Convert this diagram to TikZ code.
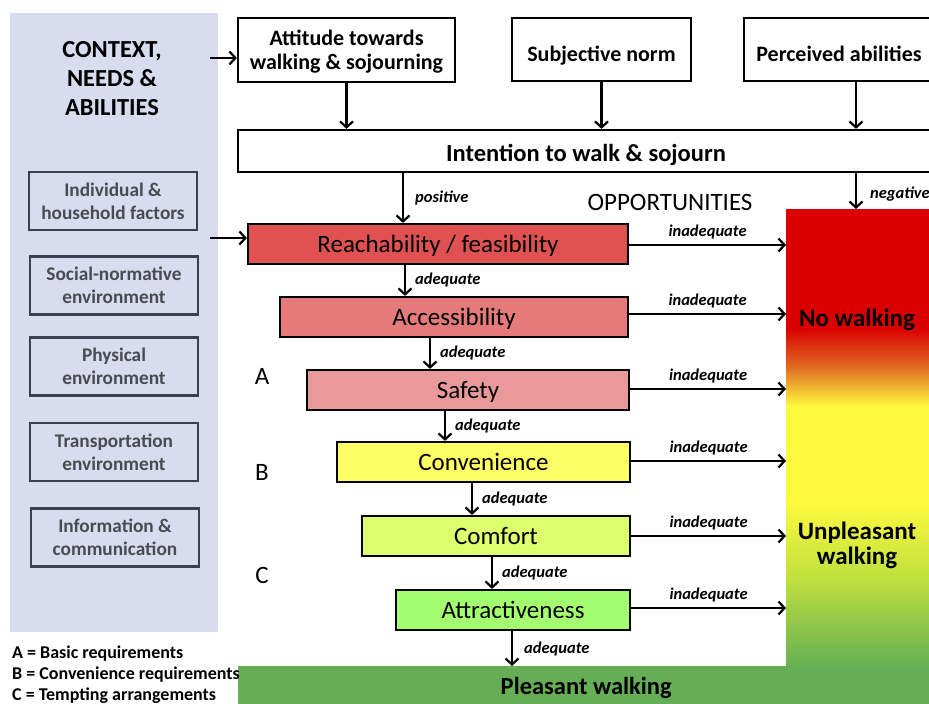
\documentclass[tikz,border=0pt]{standalone}
\usepackage{fontspec}
\setmainfont{Carlito}
\usetikzlibrary{arrows.meta}

\definecolor{panel}{RGB}{215,221,239}
\definecolor{panelline}{RGB}{58,64,82}
\definecolor{paneltext}{RGB}{74,74,80}
\definecolor{reachc}{RGB}{224,82,82}
\definecolor{accessc}{RGB}{228,122,122}
\definecolor{safetyc}{RGB}{233,153,153}
\definecolor{convc}{RGB}{255,255,102}
\definecolor{comfortc}{RGB}{221,255,110}
\definecolor{attractc}{RGB}{164,255,112}
\definecolor{pleasantc}{RGB}{101,174,86}
\definecolor{gred}{RGB}{218,0,0}
\definecolor{gorange}{RGB}{224,112,36}
\definecolor{gyellow}{RGB}{255,250,62}
\definecolor{glime}{RGB}{192,224,62}
\definecolor{ggreen}{RGB}{102,176,84}

\tikzset{
  headbox/.style={draw=black, line width=2.2pt, inner sep=0pt, align=center,
    font=\bfseries\fontsize{22}{24}\selectfont},
  onerow/.style={text height=#1, text depth=0pt},
  factor/.style={draw=panelline, line width=2.2pt, inner sep=0pt, align=center,
    minimum width=168, minimum height=58, text=paneltext,
    font=\bfseries\fontsize{19.3}{23}\selectfont},
  oppbox/.style={draw=black, line width=2.2pt, inner sep=0pt, minimum height=40,
    text height=16pt, text depth=0pt, font=\fontsize{25}{28}\selectfont},
  arr/.style={line width=2.2pt, -{Straight Barb[length=6pt,width=13pt,line width=2.2pt]}},
  lab/.style={font=\bfseries\itshape\fontsize{16.5}{19}\selectfont, inner sep=0pt},
  grade/.style={font=\fontsize{25}{28}\selectfont},
  result/.style={font=\bfseries\fontsize{25}{25}\selectfont, align=center},
}

\begin{document}
\begin{tikzpicture}[x=1pt, y=-1pt]
\useasboundingbox (0,0) rectangle (929,704);
\clip (0,0) rectangle (929,704);

% context panel with its factors
\node[fill=panel, inner sep=0pt, minimum width=208, minimum height=619, anchor=north west] (panel) at (10,13) {};
\node[align=center, font=\bfseries\fontsize{24.5}{29}\selectfont] (ctx) at (112,79) {CONTEXT,\\NEEDS \&\\ABILITIES};
\node[factor] (f1) at (113,201) {Individual \&\\household factors};
\node[factor] (f2) at (114,285.5) {Social-normative\\environment};
\node[factor] (f3) at (114,366.5) {Physical\\environment};
\node[factor] (f4) at (114,452) {Transportation\\environment};
\node[factor] (f5) at (115,537.5) {Information \&\\communication};

% theory of planned behaviour
\node[headbox, text height=42pt, minimum width=217, minimum height=64] (att) at (346.5,50) {Attitude towards\\walking \& sojourning};
\node[headbox, onerow=24pt, minimum width=179, minimum height=63] (sub) at (601.5,49.5) {Subjective norm};
\node[headbox, onerow=24pt, minimum width=190, minimum height=63] (per) at (839,49.5) {Perceived abilities};
\node[headbox, onerow=20pt, minimum width=696, minimum height=42, font=\bfseries\fontsize{24.5}{26}\selectfont] (int) at (586,151) {Intention to walk \& sojourn};

% outcome column with its colour gradient
\fill[gred] (786,209) rectangle (935,328.5);
\shade[top color=gred, bottom color=gorange] (786,328) rectangle (935,368.5);
\shade[top color=gorange, bottom color=gyellow] (786,368) rectangle (935,406.5);
\fill[gyellow] (786,406) rectangle (935,500.5);
\shade[top color=gyellow, bottom color=glime] (786,500) rectangle (935,578.5);
\shade[top color=glime, bottom color=ggreen] (786,578) rectangle (935,666);
\node[inner sep=0pt, minimum width=149, minimum height=457, anchor=north west] (col) at (786,209) {};
\node[result] (nowalk) at (857,320) {No walking};
\node[result] (unpl) at (857,545) {Unpleasant\\walking};

\node[fill=pleasantc, inner sep=0pt, minimum width=696, minimum height=40, anchor=north west,
  onerow=17pt, font=\bfseries\fontsize{24.5}{26}\selectfont] (pl) at (238,666) {Pleasant walking};

% opportunity ladder
\node[font=\fontsize{25}{28}\selectfont] (opp) at (670,202) {OPPORTUNITIES};
\node[oppbox, fill=reachc,   minimum width=380] (reach)   at (438,244)   {Reachability / feasibility};
\node[oppbox, fill=accessc,  minimum width=348] (access)  at (454,317)   {Accessibility};
\node[oppbox, fill=safetyc,  minimum width=322] (safety)  at (468,390)   {Safety};
\node[oppbox, fill=convc,    minimum width=293] (conv)    at (483.5,462) {Convenience};
\node[oppbox, fill=comfortc, minimum width=268] (comfort) at (496,536)   {Comfort};
\node[oppbox, fill=attractc, minimum width=234] (attract) at (513,610)   {Attractiveness};

\node[grade] (ga) at (262,376) {A};
\node[grade] (gb) at (262,472) {B};
\node[grade] (gc) at (262,575) {C};

% legend
\node[anchor=north west, align=left, inner sep=0pt, font=\bfseries\fontsize{18}{21}\selectfont] (legend) at (12,646)
  {A = Basic requirements\\B = Convenience requirements\\C = Tempting arrangements};

% connectors
\coordinate (negx) at (856,0);
\coordinate (posx) at (403,0);
\draw[arr] ([xshift=-8pt,yshift=-8pt]panel.east |- att.west) -- ([yshift=-8pt]att.west);
\draw[arr] ([xshift=-8pt,yshift=6pt]panel.east |- reach.west) -- ([yshift=6pt]reach.west);
\draw[arr] (att.south) -- (att.south |- int.north);
\draw[arr] (sub.south) -- (sub.south |- int.north);
\draw[arr] (per.south -| negx) -- (int.north -| negx);
\draw[arr] (int.south -| posx) -- node[lab, right=11pt] {positive} (reach.north -| posx);
\draw[arr] (int.south -| negx) -- node[lab, right=13pt, yshift=-3pt] {negative} (col.north -| negx);

\foreach \b/\y in {reach/-1, access/3, safety/1, conv/1, comfort/0, attract/2} {
  \draw[arr] ([yshift=\y pt]\b.east) -- node[lab, above=5pt] {inadequate} ([yshift=\y pt]\b.east -| col.west);
}

\coordinate (a1) at (405,0);
\coordinate (a2) at (430,0);
\coordinate (a3) at (445,0);
\coordinate (a4) at (472,0);
\coordinate (a5) at (492,0);
\coordinate (a6) at (512,0);
\draw[arr] (reach.south -| a1) -- node[lab, right=9pt] {adequate} (access.north -| a1);
\draw[arr] (access.south -| a2) -- node[lab, right=9pt] {adequate} (safety.north -| a2);
\draw[arr] (safety.south -| a3) -- node[lab, right=9pt] {adequate} (conv.north -| a3);
\draw[arr] (conv.south -| a4) -- node[lab, right=9pt] {adequate} (comfort.north -| a4);
\draw[arr] (comfort.south -| a5) -- node[lab, right=9pt] {adequate} (attract.north -| a5);
\draw[arr] (attract.south -| a6) -- node[lab, right=11pt] {adequate} (pl.north -| a6);
\end{tikzpicture}
\end{document}
